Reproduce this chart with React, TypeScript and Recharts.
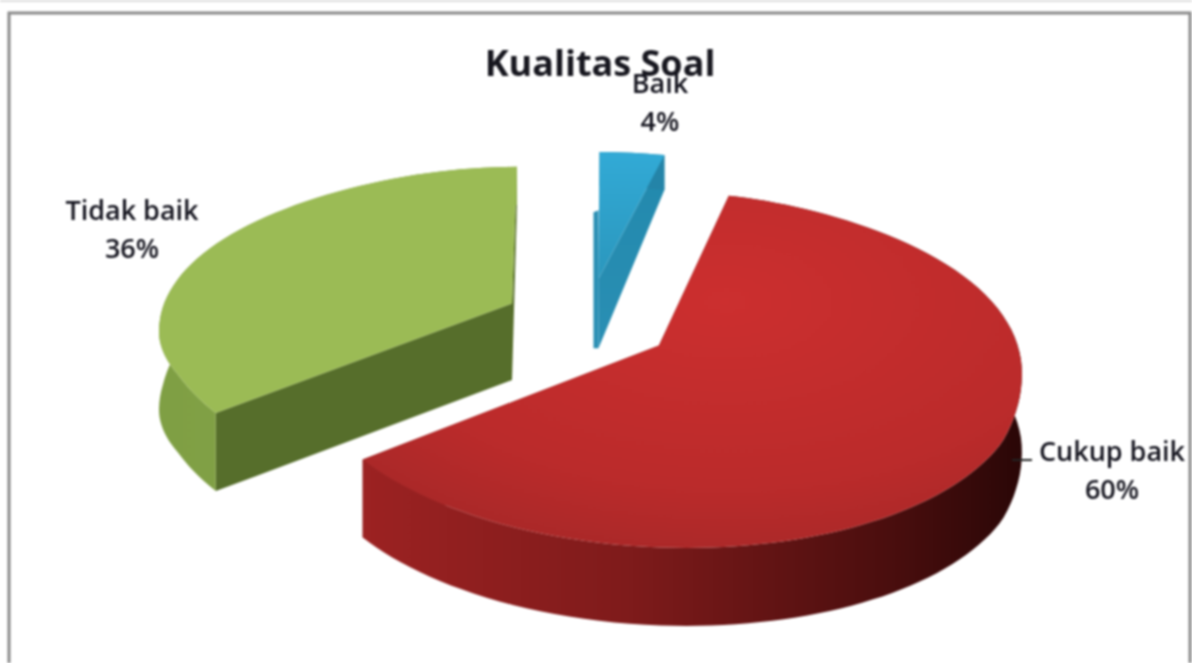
import { PieChart, Pie } from "recharts"

const categories = ["Baik", "Cukup baik", "Tidak baik"]
const shares = [4, 60, 36]
const chartTitle = "Kualitas Soal"

const data = categories.map((name, i) => ({ name, value: shares[i] }))

// colours per category: face, outer wall, cut wall
const faceFills = ["url(#blueFace)", "url(#redFace)", "#9bbb55"]
const rimFills = ["#2484a8", "url(#redRim)", "url(#greenRim)"]
const cutFills = ["url(#blueCut)", "#8f1f1f", "#566e2b"]
const rimNudge = [1, 5, 5]

const labelSpots: Record<string, [number, number]> = {
  Baik: [660, 93],
  "Cukup baik": [1112, 461],
  "Tidak baik": [132, 220],
}

const CX = 588
const CY = 322
const RX_TO_RY = 172 / 358
const EXPLODE = 84
const TILT = 0.03
const rad = Math.PI / 180

// the picture is a faked 3D pie: warp angles a bit so the cuts land as in Excel's perspective
function warp(t: number) {
  const a = ((t % 360) + 360) % 360
  if (a > 0 && a < 90) return t + 6 * Math.sin(2 * a * rad)
  if (a > 180 && a < 270) return t - 7 * Math.sin(2 * a * rad)
  return t
}

function rimPoint(cx: number, cy: number, r: number, deg: number) {
  const t = warp(deg) * rad
  const s = Math.sin(t)
  const squeeze = s > 0 ? 1 - 0.1 * s ** 4 : 1
  const x = cx + r * Math.cos(t) * squeeze
  const farShift = 28 + Math.max(0, s) * (CY - cy) * 0.4
  const tilt = TILT * (x - CX) * Math.min(1, 3 * Math.max(0, -s))
  return { x, y: cy + farShift - r * RX_TO_RY * s + tilt }
}

const depthAt = (y: number) => Math.min(78, 35 + (y - 155) * 0.28)
const down = (p: { x: number; y: number }) => ({ x: p.x, y: p.y + depthAt(p.y) })
const toPath = (pts: { x: number; y: number }[]) =>
  "M" + pts.map((p) => `${p.x.toFixed(1)},${p.y.toFixed(1)}`).join("L") + "Z"

function Wedge3D(props: any) {
  const { cx, cy, outerRadius, startAngle, endAngle, midAngle, name } = props
  const i = categories.indexOf(name ?? props.payload?.name)
  const ox = cx + EXPLODE * Math.cos(midAngle * rad)
  const oy = cy - EXPLODE * 0.52 * Math.sin(midAngle * rad)

  const steps = Math.max(8, Math.round(Math.abs(endAngle - startAngle) / 2))
  const rim = Array.from({ length: steps + 1 }, (_, k) => {
    const p = rimPoint(ox, oy, outerRadius, startAngle + ((endAngle - startAngle) * k) / steps)
    return { x: p.x + rimNudge[i], y: p.y }
  })
  const apex = { x: ox, y: oy }
  const foot = down(apex)
  const first = rim[0]
  const last = rim[rim.length - 1]

  return (
    <g>
      {/* the thin sliver of the near wall that shows left of the small slice */}
      {i === 0 && (
        <path
          d={toPath([
            { x: ox, y: foot.y - 138 },
            { x: ox - 5, y: foot.y - 136 },
            { x: ox - 5, y: foot.y },
            { x: ox, y: foot.y },
          ])}
          fill="#2a8fb4"
        />
      )}
      <path d={toPath([apex, first, down(first), foot])} fill={cutFills[i]} />
      <path d={toPath([apex, last, down(last), foot])} fill={cutFills[i]} />
      <path d={toPath([...rim, ...rim.map(down).reverse()])} fill={rimFills[i]} />
      <path d={toPath([apex, ...rim])} fill={faceFills[i]} />
    </g>
  )
}

function SliceLabel(props: any) {
  const { name, percent } = props
  const [x, y] = labelSpots[name]
  const style = { fontFamily: "'Open Sans'", fontSize: 27, fontWeight: 600, fill: "#14141e" }
  return (
    <g>
      {name === "Cukup baik" && <line x1={1012} y1={460} x2={1032} y2={460} stroke="#222" strokeWidth={2} />}
      <text x={x} y={y} textAnchor="middle" style={style}>{name}</text>
      <text x={x} y={y + 38} textAnchor="middle" style={style}>{`${Math.round(percent * 100)}%`}</text>
    </g>
  )
}

export default function App() {
  return (
    <div style={{ position: "absolute", left: 0, top: 0, width: 1192, height: 663, background: "#fff", overflow: "hidden", filter: "blur(1px)" }}>
      <PieChart width={1192} height={663} margin={{ top: 0, right: 0, bottom: 0, left: 0 }}>
        <defs>
          <radialGradient id="redFace" cx="55%" cy="30%" r="75%">
            <stop offset="0%" stopColor="#cc2f2f" />
            <stop offset="70%" stopColor="#bb2b2b" />
            <stop offset="100%" stopColor="#a82828" />
          </radialGradient>
          <linearGradient id="redRim" x1="0" y1="0" x2="1" y2="0">
            <stop offset="0%" stopColor="#9c2222" />
            <stop offset="40%" stopColor="#7f1b1b" />
            <stop offset="80%" stopColor="#4a0e0e" />
            <stop offset="100%" stopColor="#2a0707" />
          </linearGradient>
          <linearGradient id="greenRim" x1="0" y1="0" x2="1" y2="0">
            <stop offset="0%" stopColor="#7f9f44" />
            <stop offset="100%" stopColor="#8aa84c" />
          </linearGradient>
          <linearGradient id="blueFace" x1="0" y1="0" x2="0" y2="1">
            <stop offset="0%" stopColor="#32aad6" />
            <stop offset="100%" stopColor="#2b97bd" />
          </linearGradient>
          <linearGradient id="blueCut" x1="0" y1="0" x2="0" y2="1">
            <stop offset="0%" stopColor="#2289ad" />
            <stop offset="100%" stopColor="#2a8fb4" />
          </linearGradient>
        </defs>
        <rect x={0} y={0} width={1192} height={2} fill="#ddd" />
        <rect x={9} y={13} width={1181} height={680} fill="#fff" stroke="#8a8a8a" strokeWidth={3} />
        <text x={600} y={76} textAnchor="middle" style={{ fontFamily: "'Open Sans'", fontSize: 36, fontWeight: 700, fill: "#17171f" }}>
          {chartTitle}
        </text>
        <Pie
          data={data}
          dataKey="value"
          nameKey="name"
          cx={CX}
          cy={CY}
          innerRadius={0}
          outerRadius={358}
          startAngle={90}
          endAngle={-270}
          stroke="none"
          shape={Wedge3D}
          label={SliceLabel}
          labelLine={false}
          isAnimationActive={false}
        />
      </PieChart>
    </div>
  )
}
